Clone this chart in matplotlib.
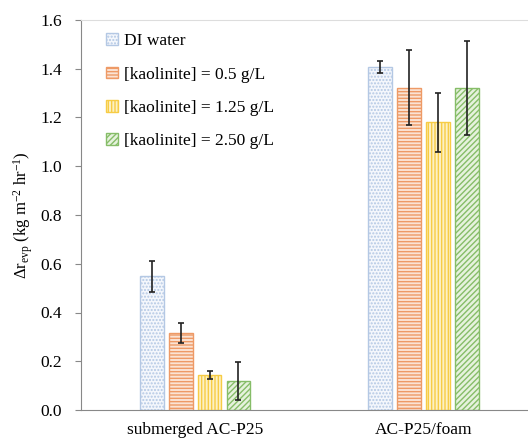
import matplotlib
matplotlib.use("Agg")
import matplotlib.pyplot as plt
import numpy as np

# data
groups = ["submerged AC-P25", "AC-P25/foam"]
series = ["DI water", "[kaolinite] = 0.5 g/L", "[kaolinite] = 1.25 g/L", "[kaolinite] = 2.50 g/L"]
di_water = [0.548, 1.408]
kao_05 = [0.317, 1.323]
kao_125 = [0.144, 1.180]
kao_250 = [0.118, 1.322]
err_di = [0.065, 0.024]
err_05 = [0.041, 0.152]
err_125 = [0.015, 0.120]
err_250 = [0.079, 0.192]

plt.rcParams['font.family'] = ['Liberation Serif', 'DejaVu Serif']
plt.rcParams['mathtext.fontset'] = 'custom'
plt.rcParams['mathtext.rm'] = 'Liberation Serif'
plt.rcParams['mathtext.it'] = 'Liberation Serif:italic'
plt.rcParams['hatch.linewidth'] = 1.0

edge_cols = ["#b4c8e4", "#ee9a66", "#f7cc45", "#86bd68"]
face_cols = ["#f4f7fc", "#fbe3d4", "#fdf1c4", "#e6f2dd"]
hatches = [".....", "-----", "|||||", "//////"]

fig = plt.figure(figsize=(5.28, 4.38), dpi=100)
ax = fig.add_axes([81/528, 28/438, 456.5/528, 390/438])

x = np.arange(len(groups))
width = 0.105
offsets = [-0.188, -0.063, 0.063, 0.190]
vals = [di_water, kao_05, kao_125, kao_250]
errs = [err_di, err_05, err_125, err_250]

for v, e, off, ec, fc, h, lab in zip(vals, errs, offsets, edge_cols, face_cols, hatches, series):
    ax.bar(x + off, v, width, color=fc, edgecolor=ec, hatch=h, linewidth=1.0, label=lab)
    ax.errorbar(x + off, v, yerr=e, fmt='none', ecolor='#222222', elinewidth=1.2, capsize=2.5, capthick=1.2)

ax.set_xlim(-0.5, 1.5)
ax.set_ylim(0, 1.6)
ax.set_yticks(np.arange(0, 1.61, 0.2))
ax.set_yticklabels(["%.1f" % t for t in np.arange(0, 1.61, 0.2)], size=12.5)
ax.set_xticks(x)
ax.set_xticklabels(groups, size=12.5)
ax.tick_params(axis='x', length=0, pad=8.5)
ax.tick_params(axis='y', direction='out', length=4.5, color='#888888', pad=9)
ax.set_ylabel(r'$\Delta$r$_{\rm evp}$ (kg m$^{-2}$ hr$^{-1}$)', size=12, labelpad=4)

for s in ['left', 'bottom']:
    ax.spines[s].set_color('#888888')
ax.spines['top'].set_color('#dddddd')
ax.spines['right'].set_visible(False)

ax.legend(loc='upper left', bbox_to_anchor=(0.033, 0.993), frameon=False, fontsize=12.5,
          handlelength=0.65, handleheight=0.65, handletextpad=0.35, labelspacing=1.0,
          borderaxespad=0.2)

fig.savefig("out.png", dpi=100)
